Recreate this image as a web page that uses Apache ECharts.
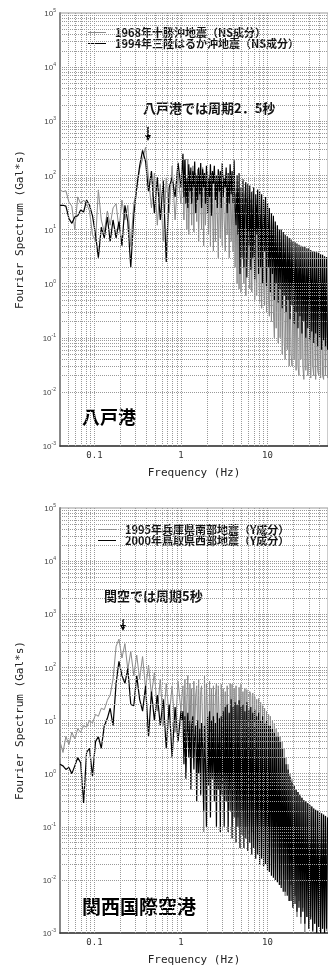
<!DOCTYPE html>
<html>
<head>
<meta charset="utf-8">
<script src="https://cdn.jsdelivr.net/npm/echarts@6.0.0/dist/echarts.min.js"></script>
<style>
  html, body { margin: 0; padding: 0; background: #fff; }
  #chart { width: 328px; height: 967px; }
</style>
</head>
<body>
<div id="chart"></div>
<script>
// 周波数 (Hz) -- 4 本のスペクトルで共通
const freqHz = [
  // 0.04 - 1 Hz
  0.0400, 0.0433, 0.0468, 0.0507, 0.0548, 0.0593, 0.0641, 0.0693, 0.0750, 0.0811,
  0.0877, 0.0949, 0.103, 0.111, 0.120, 0.130, 0.141, 0.152, 0.164, 0.178,
  0.192, 0.208, 0.225, 0.243, 0.263, 0.285, 0.308, 0.333, 0.360, 0.390,
  0.422, 0.456, 0.493, 0.533, 0.577, 0.624, 0.676, 0.731, 0.790, 0.855,
  0.925, 1.00,
  // 1 - 50 Hz
  1.027, 1.054, 1.082, 1.11, 1.14, 1.17, 1.20, 1.23, 1.27, 1.30,
  1.33, 1.37, 1.41, 1.44, 1.48, 1.52, 1.56, 1.60, 1.65, 1.69,
  1.73, 1.78, 1.83, 1.87, 1.92, 1.97, 2.03, 2.08, 2.14, 2.19,
  2.25, 2.31, 2.37, 2.43, 2.50, 2.57, 2.63, 2.70, 2.78, 2.85,
  2.92, 3.00, 3.08, 3.16, 3.25, 3.33, 3.42, 3.51, 3.61, 3.70,
  3.80, 3.90, 4.00, 4.11, 4.22, 4.33, 4.45, 4.56, 4.69, 4.81,
  4.94, 5.07, 5.20, 5.34, 5.48, 5.62, 5.77, 5.93, 6.08, 6.24,
  6.41, 6.58, 6.75, 6.93, 7.12, 7.31, 7.50, 7.70, 7.90, 8.11,
  8.33, 8.55, 8.78, 9.01, 9.25, 9.49, 9.74, 10.0, 10.3, 10.5,
  10.8, 11.1, 11.4, 11.7, 12.0, 12.3, 12.6, 13.0, 13.3, 13.7,
  14.0, 14.4, 14.8, 15.2, 15.6, 16.0, 16.4, 16.9, 17.3, 17.8,
  18.2, 18.7, 19.2, 19.7, 20.3, 20.8, 21.4, 21.9, 22.5, 23.1,
  23.7, 24.3, 25.0, 25.6, 26.3, 27.0, 27.7, 28.5, 29.2, 30.0,
  30.8, 31.6, 32.5, 33.3, 34.2, 35.1, 36.0, 37.0, 38.0, 39.0,
  40.0, 41.1, 42.2, 43.3, 44.5, 45.6, 46.8, 48.1, 49.4
];

// 八戸港
const tokachi1968 = [
  54, 50, 52, 32, 27, 10, 40, 30, 35, 30,
  22, 8, 6, 54, 15, 9, 22, 12, 25, 30,
  10, 35, 15, 28, 5, 30, 55, 130, 200, 330,
  90, 25, 110, 12, 70, 6, 90, 20, 150, 15,
  110, 30,
  60, 100, 15, 190, 40, 10, 200, 8, 120, 50,
  12, 150, 9, 80, 110, 14, 130, 6, 100, 40,
  10, 140, 5, 90, 12, 60, 120, 8, 100, 5,
  110, 30, 4, 80, 6, 70, 20, 3, 90, 7,
  60, 5, 100, 15, 4, 70, 8, 55, 3, 80,
  6, 50, 4, 60, 2, 45, 1, 55, 0.8, 40,
  0.7, 45, 5, 1, 30, 0.6, 40, 3, 25, 0.8,
  35, 0.7, 20, 4, 0.5, 30, 0.6, 14, 2, 0.45,
  20, 0.35, 12, 1, 0.4, 14, 0.3, 8, 0.5, 0.25,
  10, 0.2, 6, 0.3, 0.1, 5, 0.15, 4, 0.08, 3.5,
  0.1, 3, 0.05, 2.8, 0.08, 0.04, 2.5, 0.06, 2.2, 0.03,
  2, 0.05, 0.03, 1.8, 0.04, 1.7, 0.025, 1.6, 0.03, 0.02,
  1.5, 0.04, 1.5, 0.03, 0.017, 1.4, 0.025, 1.3, 0.02, 0.035,
  1.3, 0.018, 1.2, 0.03, 0.02, 1.2, 0.017, 1.1, 0.025, 0.02,
  1.1, 0.018, 1.0, 0.02, 0.017, 1.0, 0.02, 1.0, 0.018
];
const sanriku1994 = [
  28, 28, 27, 16, 13, 17, 18, 23, 21, 35,
  28, 18, 8, 3, 11, 7, 17, 6, 15, 7,
  14, 5, 28, 14, 2, 18, 60, 150, 290, 180,
  50, 120, 20, 92, 15, 80, 2.5, 60, 92, 40,
  170, 60,
  120, 250, 40, 200, 30, 90, 25, 160, 50, 140,
  30, 120, 60, 180, 20, 100, 35, 140, 45, 170,
  25, 130, 60, 110, 30, 150, 20, 90, 40, 160,
  18, 120, 70, 150, 35, 100, 25, 130, 50, 120,
  25, 170, 40, 90, 60, 140, 20, 110, 30, 160,
  45, 120, 30, 190, 25, 12, 100, 8, 110, 1.5,
  60, 3, 85, 2, 40, 75, 1.3, 70, 5, 65,
  1.8, 50, 3, 60, 1.2, 45, 8, 55, 1.5, 50,
  2, 45, 1.0, 35, 4, 40, 0.9, 30, 2, 25,
  0.7, 20, 1.5, 18, 0.5, 14, 1, 12, 0.45, 10,
  0.8, 10, 0.35, 9, 0.6, 8, 0.3, 7.5, 0.5, 7,
  0.22, 6.5, 0.4, 6, 0.18, 5.8, 0.3, 5.5, 0.15, 5.2,
  0.25, 5, 0.12, 4.8, 0.2, 4.8, 0.1, 4.5, 0.15, 4.5,
  0.09, 4.2, 0.13, 4, 0.08, 3.9, 0.12, 3.8, 0.07, 3.7,
  0.1, 3.5, 0.06, 3.4, 0.09, 3.2, 0.07, 3.1, 0.06
];

// 関西国際空港
const hyogo1995 = [
  4, 2.5, 5, 3.5, 6, 4.5, 7, 6, 8, 7.5,
  10, 9, 13, 12, 17, 16, 24, 30, 60, 250,
  340, 150, 280, 90, 200, 70, 170, 60, 160, 40,
  110, 30, 80, 15, 60, 8, 50, 12, 45, 6,
  55, 15,
  30, 45, 8, 60, 4, 25, 70, 3, 50, 10,
  40, 2, 55, 6, 30, 45, 5, 60, 2, 35,
  45, 8, 0.08, 70, 3, 50, 12, 2, 55, 6,
  40, 5, 45, 1.5, 30, 50, 3, 45, 8, 0.2,
  48, 4, 40, 2, 35, 1, 45, 10, 0.5, 50,
  6, 48, 0.3, 40, 5, 45, 2, 0.15, 42, 8,
  48, 0.2, 35, 3, 40, 0.1, 38, 2, 0.3, 35,
  30, 0.08, 33, 1, 28, 0.15, 25, 0.05, 26, 0.5,
  22, 0.04, 19, 0.3, 17, 0.03, 15, 0.2, 13, 0.02,
  12, 0.1, 10, 0.015, 9, 0.05, 7, 0.01, 6, 0.03,
  5, 0.008, 4, 0.02, 3, 0.005, 2, 0.01, 1.5, 0.004,
  1, 0.008, 0.8, 0.003, 0.6, 0.005, 0.5, 0.002, 0.45, 0.004,
  0.4, 0.0015, 0.35, 0.003, 0.3, 0.001, 0.3, 0.002, 0.27, 0.0012,
  0.25, 0.002, 0.24, 0.001, 0.22, 0.0015, 0.2, 0.001, 0.2, 0.0013,
  0.18, 0.001, 0.17, 0.0012, 0.16, 0.001, 0.16, 0.0011, 0.15
];
const tottori2000 = [
  1.5, 1.4, 1.2, 1.3, 1.0, 1.4, 2, 1.6, 0.28, 2.5,
  3, 0.9, 4, 5, 3, 8, 11, 17, 8, 50,
  130, 70, 50, 95, 20, 19, 70, 25, 15, 45,
  5, 35, 10, 30, 8, 25, 3, 20, 2, 18,
  4, 15,
  10, 15, 1.5, 12, 0.8, 6, 14, 2, 10, 0.5,
  8, 12, 1.2, 5, 8, 0.3, 10, 1, 7, 0.4,
  9, 3, 0.2, 8, 1.5, 0.1, 12, 0.6, 15, 0.15,
  10, 0.8, 12, 0.3, 9, 0.1, 14, 0.5, 11, 0.08,
  12, 0.4, 15, 0.1, 18, 0.3, 20, 0.08, 14, 0.2,
  25, 0.06, 18, 0.15, 22, 0.05, 20, 0.1, 24, 0.04,
  18, 0.07, 20, 0.04, 15, 0.06, 22, 0.035, 16, 0.05,
  18, 0.03, 14, 0.04, 16, 0.025, 12, 0.03, 14, 0.02,
  10, 0.025, 12, 0.018, 9, 0.02, 10, 0.015, 8, 0.014,
  8, 0.012, 7, 0.011, 6, 0.01, 5, 0.009, 5, 0.008,
  4, 0.007, 3, 0.006, 2, 0.006, 1.5, 0.005, 1.2, 0.004,
  0.9, 0.004, 0.7, 0.003, 0.6, 0.0035, 0.5, 0.0025, 0.45, 0.003,
  0.4, 0.002, 0.35, 0.0025, 0.32, 0.0015, 0.3, 0.002, 0.28, 0.0012,
  0.26, 0.0018, 0.24, 0.0011, 0.22, 0.0015, 0.21, 0.001, 0.2, 0.0013,
  0.19, 0.001, 0.18, 0.0012, 0.17, 0.001, 0.16, 0.0012, 0.15
];

// 軸の目盛
const xTickValues = [0.1, 1, 10];
const xTickLabels = ['0.1', '1', '10'];
const yDecades = [0.001, 0.01, 0.1, 1, 10, 100, 1000, 10000, 100000];
const yExponents = ['-3', '-2', '-1', '0', '1', '2', '3', '4', '5'];
const gridMultipliers = [1, 2, 3, 4, 5, 6, 7, 8, 9];
const xMin = 0.04, xMax = 50;

const cjk = "'Noto Sans CJK JP', sans-serif";
const mono = "'DejaVu Sans Mono', monospace";
const grayColor = '#8a8a8a';

function gridValues(decades, lo, hi) {
  const out = [];
  decades.forEach(d => gridMultipliers.forEach(m => {
    const v = m * d;
    if (v > lo * 1.001 && v < hi * 0.999) out.push(v);
  }));
  return out;
}
const xGrid = gridValues([0.01, 0.1, 1, 10], xMin, xMax);
const yGrid = gridValues(yDecades, 0.001, 100000);

const panels = [
  { top: 13, height: 433, gray: tokachi1968, black: sanriku1994,
    names: ['1968年十勝沖地震（NS成分）', '1994年三陸はるか沖地震（NS成分）'],
    legendLeft: 83, legendTop: 22 },
  { top: 508, height: 429, gray: hyogo1995, black: tottori2000,
    names: ['1995年兵庫県南部地震（Y成分）', '2000年鳥取県西部地震（Y成分）'],
    legendLeft: 93, legendTop: 519 }
];

const chart = echarts.init(document.getElementById('chart'));

const option = {
  animation: false,
  backgroundColor: '#fff',
  grid: [], xAxis: [], yAxis: [], series: [], legend: [],
  graphic: []
};

panels.forEach((p, i) => {
  option.grid.push({
    left: 60, top: p.top, width: 272, height: p.height,
    show: true, borderColor: '#999', borderWidth: 1
  });
  option.xAxis.push({
    type: 'log', gridIndex: i, min: xMin, max: xMax, logBase: 10, splitNumber: 3,
    name: 'Frequency (Hz)', nameLocation: 'middle', nameGap: 22,
    nameTextStyle: { fontFamily: mono, fontSize: 11, color: '#222' },
    axisLine: { lineStyle: { color: '#333', width: 1.5 } },
    axisTick: { show: false },
    splitLine: { show: false },
    axisLabel: {
      fontFamily: mono, fontSize: 9, color: '#333', margin: 5,
      showMinLabel: false, showMaxLabel: false,
      formatter: v => {
        const k = xTickValues.findIndex(t => Math.abs(Math.log10(v) - Math.log10(t)) < 0.01);
        return k >= 0 ? xTickLabels[k] : '';
      }
    }
  });
  option.yAxis.push({
    type: 'log', gridIndex: i, min: 0.001, max: 100000, logBase: 10, splitNumber: 8,
    name: 'Fourier Spectrum (Gal*s)', nameLocation: 'middle', nameGap: 34,
    nameTextStyle: { fontFamily: mono, fontSize: 11, color: '#222' },
    axisLine: { lineStyle: { color: '#888', width: 2 } },
    axisTick: { show: false },
    splitLine: { show: false },
    axisLabel: {
      margin: 4,
      formatter: v => {
        const k = yDecades.findIndex(t => Math.abs(Math.log10(v) - Math.log10(t)) < 0.01);
        return k >= 0 ? '{b|10}{e|' + yExponents[k] + '}' : '';
      },
      rich: {
        b: { fontFamily: 'Liberation Sans', fontSize: 8, color: '#444', verticalAlign: 'bottom' },
        e: { fontFamily: 'Liberation Sans', fontSize: 5, color: '#444', verticalAlign: 'bottom', padding: [0, 0, 5, 0] }
      }
    }
  });

  // 方眼 (点線)
  option.series.push({
    type: 'line', xAxisIndex: i, yAxisIndex: i, data: [], z: 1, silent: true,
    markLine: {
      silent: true, symbol: 'none', animation: false,
      label: { show: false },
      lineStyle: { type: [1, 1], color: '#999', width: 1 },
      data: xGrid.map(v => ({ xAxis: v })).concat(yGrid.map(v => ({ yAxis: v })))
    }
  });

  option.series.push({
    name: p.names[0], type: 'line', xAxisIndex: i, yAxisIndex: i, z: 2,
    symbol: 'none', showSymbol: false,
    color: grayColor, lineStyle: { color: grayColor, width: 1 },
    data: freqHz.map((f, j) => [f, p.gray[j]])
  });
  option.series.push({
    name: p.names[1], type: 'line', xAxisIndex: i, yAxisIndex: i, z: 3,
    symbol: 'none', showSymbol: false,
    color: '#000', lineStyle: { color: '#000', width: 1.2 },
    data: freqHz.map((f, j) => [f, p.black[j]])
  });

  option.legend.push({
    data: p.names, orient: 'vertical', left: p.legendLeft, top: p.legendTop,
    icon: 'rect', itemWidth: 18, itemHeight: 1, itemGap: 0,
    textStyle: { fontFamily: cjk, fontSize: 11, fontWeight: 'bold', color: '#111', lineHeight: 11, padding: [0, 0, 0, 4] }
  });
});

// 注記
option.graphic = [
  { type: 'text', left: 143, top: 102,
    style: { text: '八戸港では周期2．5秒', font: 'bold 13px ' + cjk, fill: '#111' } },
  { type: 'line', shape: { x1: 148, y1: 127, x2: 148, y2: 136 },
    style: { stroke: '#000', lineWidth: 1.5 } },
  { type: 'polygon', shape: { points: [[145, 135], [151, 135], [148, 141]] },
    style: { fill: '#000' } },
  { type: 'text', left: 82, top: 408,
    style: { text: '八戸港', font: 'bold 18px ' + cjk, fill: '#000' } },

  { type: 'text', left: 104, top: 590,
    style: { text: '関空では周期5秒', font: 'bold 13px ' + cjk, fill: '#111' } },
  { type: 'line', shape: { x1: 123, y1: 619, x2: 123, y2: 626 },
    style: { stroke: '#000', lineWidth: 1.5 } },
  { type: 'polygon', shape: { points: [[120, 625], [126, 625], [123, 631]] },
    style: { fill: '#000' } },
  { type: 'text', left: 82, top: 897,
    style: { text: '関西国際空港', font: 'bold 19px ' + cjk, fill: '#000' } }
];

chart.setOption(option);
</script>
</body>
</html>
